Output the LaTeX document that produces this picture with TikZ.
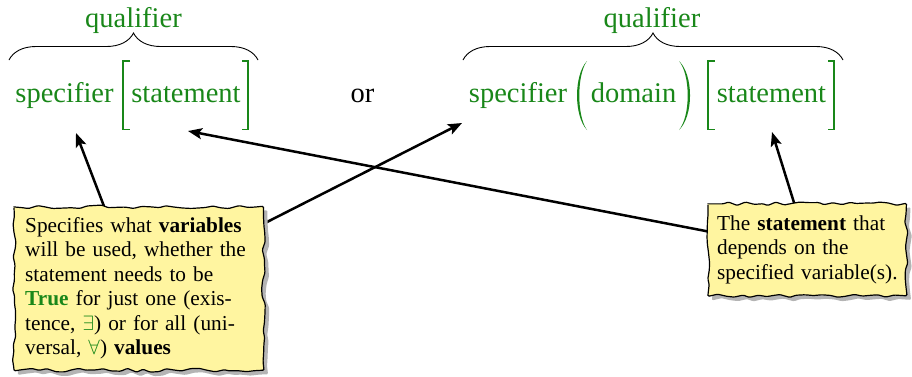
\documentclass[tikz,border=0pt]{standalone}
\usepackage{fontspec}
\setmainfont{Liberation Serif}
\newfontfamily\timesfam{Liberation Serif}
\usetikzlibrary{arrows.meta,decorations.pathreplacing,decorations.pathmorphing,calc}
\definecolor{qgreen}{RGB}{25,135,25}
\definecolor{noteyellow}{RGB}{255,245,160}
\definecolor{shadowgray}{RGB}{180,180,180}
\pgfdeclarelayer{back}\pgfdeclarelayer{mid}\pgfsetlayers{back,mid,main}
\begin{document}
\begin{tikzpicture}[x=1pt,y=-1pt,
  bigtext/.style={font=\timesfam\fontsize{28.5}{34}\selectfont, inner sep=0pt, anchor=base},
  gtext/.style={bigtext, text=qgreen},
  note/.style={font=\timesfam\fontsize{21.3}{24.5}\selectfont, inner xsep=11pt, inner ysep=8pt, align=left, anchor=north west},
  delim/.style={draw=qgreen, line width=1.6pt},
  bracebrace/.style={decorate, decoration={brace, amplitude=27pt}, line width=0.9pt},
  pointer/.style={line width=2.5pt, -{Stealth[length=14pt,width=11pt,inset=3pt]}},
  wavy/.style={decorate, decoration={random steps, segment length=8pt, amplitude=1.9pt}, rounded corners=1.2pt},
]
\useasboundingbox (0,0) rectangle (912,376);

% top formulas
\node[gtext] (q1) at (133.5,27) {qualifier};
\node[gtext] (q2) at (652,27) {qualifier};
\node[gtext] (sp1) at (64.5,102) {specifier};
\node[gtext] (st1) at (186,102) {statement};
\node[bigtext] (or) at (362.5,102) {or};
\node[gtext] (sp2) at (518,102) {specifier};
\node[gtext] (dom) at (633.5,102) {domain};
\node[gtext] (st2) at (771.5,102) {statement};

% braces
\coordinate (b1l) at (9,60); \coordinate (b1r) at (258,60);
\coordinate (b2l) at (463,60); \coordinate (b2r) at (843,60);
\draw[bracebrace] (b1l) -- (b1r);
\draw[bracebrace] (b2l) -- (b2r);

% brackets and parentheses
\draw[delim] (130,61) -- (123,61) -- (123,129.5) -- (130,129.5);
\draw[delim] (242,61) -- (248,61) -- (248,129.5) -- (242,129.5);
\draw[delim] (714.5,61) -- (708,61) -- (708,129.5) -- (714.5,129.5);
\draw[delim] (828,61) -- (834,61) -- (834,129.5) -- (828,129.5);
\fill[qgreen] (587,61) .. controls (573.7,75) and (573.7,116) .. (587,130)
  .. controls (576.7,116) and (576.7,75) .. (587,61) -- cycle;
\fill[qgreen] (679,61) .. controls (693.7,75) and (693.7,116) .. (679,130)
  .. controls (690.6,116) and (690.6,75) .. (679,61) -- cycle;

% notes
\node[note, text width=227pt] (lnote) at (14,206.85) {\strut Specifies what \textbf{variables}\\
will be used, whether the\\
statement needs to be\\
\textcolor{qgreen}{\textbf{True}} for just one (exis-\\
tence, \textcolor{qgreen}{$\exists$}) or for all (uni-\\
versal, \textcolor{qgreen}{$\forall$}) \textbf{values}\strut};
\node[note, inner xsep=9pt, inner ysep=9pt, text width=190pt] (rnote) at (708,203.85) {\strut The \textbf{statement} that\\
depends on the\\
specified variable(s).\strut};

\begin{pgfonlayer}{mid}
\pgfmathsetseed{7}
\fill[shadowgray, wavy] ($(lnote.north west)+(4,4)$) rectangle ($(lnote.south east)+(4,4)$);
\pgfmathsetseed{7}
\draw[wavy, fill=noteyellow, line width=1.2pt] (lnote.north west) rectangle (lnote.south east);
\pgfmathsetseed{11}
\fill[shadowgray, wavy] ($(rnote.north west)+(4,4)$) rectangle ($(rnote.south east)+(-6,4)$);
\pgfmathsetseed{11}
\draw[wavy, fill=noteyellow, line width=1.2pt] (rnote.north west) rectangle ($(rnote.south east)+(-10,0)$);
\end{pgfonlayer}

% arrows
\coordinate (tA) at (76,133);
\coordinate (tB) at (462,123);
\coordinate (tC) at (188,131);
\coordinate (tD) at (772,132);
\begin{pgfonlayer}{back}
\draw[pointer] ($(lnote.north west)+(91,2)$) -- (tA);
\draw[pointer] ($(lnote.north east)+(-2,18)$) -- (tB);
\draw[pointer] ($(rnote.north west)+(2,28)$) -- (tC);
\draw[pointer] ($(rnote.north west)+(87,2)$) -- (tD);
\end{pgfonlayer}
\end{tikzpicture}
\end{document}
